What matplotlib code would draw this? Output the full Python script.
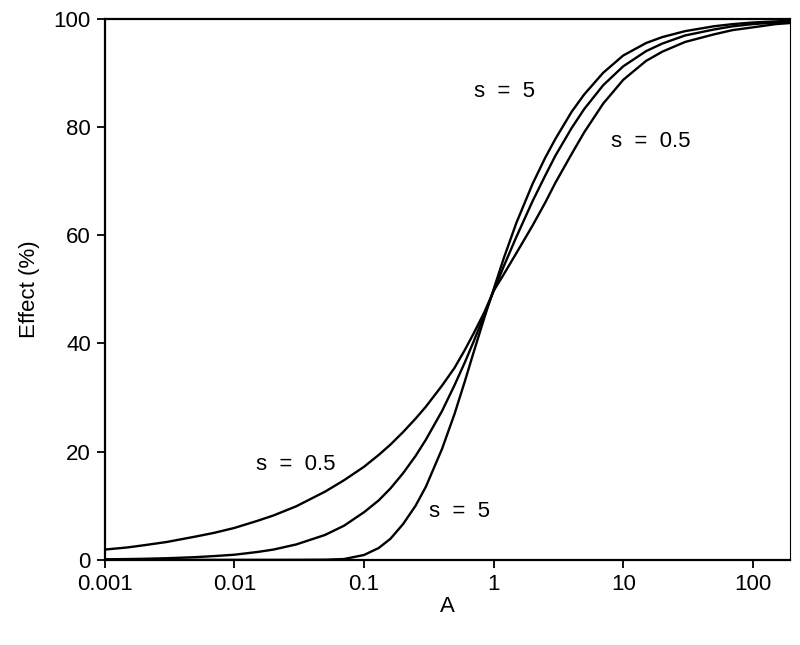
import matplotlib
matplotlib.use("Agg")
import matplotlib.pyplot as plt
from matplotlib.ticker import FixedLocator, NullLocator

plt.rcParams['font.family'] = ['Liberation Sans', 'DejaVu Sans']

# concentrations A (log axis)
A = [0.001, 0.0015, 0.002, 0.003, 0.005, 0.007, 0.01, 0.015, 0.02, 0.03, 0.05, 0.07,
     0.1, 0.13, 0.16, 0.2, 0.25, 0.3, 0.4, 0.5, 0.6, 0.7, 0.85, 1, 1.2, 1.5, 2, 2.5,
     3, 4, 5, 7, 10, 15, 20, 30, 50, 70, 100, 150, 195]

# effect (%)
eff_s05 = [1.9, 2.3, 2.7, 3.3, 4.3, 5.0, 5.9, 7.2, 8.2, 9.9, 12.6, 14.7,
           17.2, 19.4, 21.3, 23.6, 26.1, 28.3, 32.2, 35.5, 38.8, 41.8, 45.8, 49.7, 52.8, 56.7, 61.8, 66.0,
           69.7, 75.0, 79.0, 84.3, 88.7, 92.2, 93.9, 95.7, 97.1, 97.9, 98.4, 99.0, 99.2]
eff_s1 = [0.1, 0.15, 0.2, 0.3, 0.5, 0.7, 0.95, 1.45, 1.9, 2.85, 4.6, 6.3,
          8.8, 11.0, 13.2, 16.0, 19.2, 22.2, 27.5, 32.3, 36.5, 40.3, 45.3, 49.7, 54.3, 59.7, 66.3, 71.0,
          74.7, 79.8, 83.3, 87.7, 91.2, 94.0, 95.4, 96.9, 98.0, 98.6, 99.0, 99.3, 99.5]
eff_s5 = [0, 0, 0, 0, 0, 0, 0, 0, 0, 0.005, 0.03, 0.15,
          0.9, 2.2, 3.9, 6.6, 10.0, 13.5, 20.5, 27.0, 33.0, 38.3, 44.8, 50.0, 55.8, 62.3, 69.5, 74.3,
          77.8, 82.8, 86.0, 90.0, 93.2, 95.5, 96.6, 97.7, 98.6, 99.0, 99.3, 99.5, 99.65]

xticks = [0.001, 0.01, 0.1, 1, 10, 100]
xticklabels = ["0.001", "0.01", "0.1", "1", "10", "100"]
yticks = [0, 20, 40, 60, 80, 100]

fig = plt.figure(figsize=(8, 6.45), dpi=100)
ax = fig.add_axes([0.131, 0.132, 0.857, 0.839])

for y in (eff_s05, eff_s1, eff_s5):
    ax.plot(A, y, color="black", lw=1.7, solid_joinstyle="round")

ax.set_xscale("log")
ax.set_xlim(0.001, 195)
ax.set_ylim(0, 100)
ax.xaxis.set_major_locator(FixedLocator(xticks))
ax.xaxis.set_minor_locator(NullLocator())
ax.set_xticklabels(xticklabels)
ax.set_yticks(yticks)
ax.tick_params(direction="out", length=6, width=1.3, labelsize=16, pad=4)

for side in ("left", "bottom", "top"):
    ax.spines[side].set_linewidth(1.6)
ax.spines["right"].set_linewidth(0.8)

lab = dict(fontsize=16, ha="center", va="center")
ax.text(1.22, 86.5, "s  =  5", **lab)
ax.text(16.3, 77.4, "s  =  0.5", **lab)
ax.text(0.0298, 17.6, "s  =  0.5", **lab)
ax.text(0.548, 8.9, "s  =  5", **lab)

ax.set_xlabel("A", fontsize=16, labelpad=1)
ax.set_ylabel("Effect (%)", fontsize=16, labelpad=10)

fig.savefig("out.png", dpi=100)
